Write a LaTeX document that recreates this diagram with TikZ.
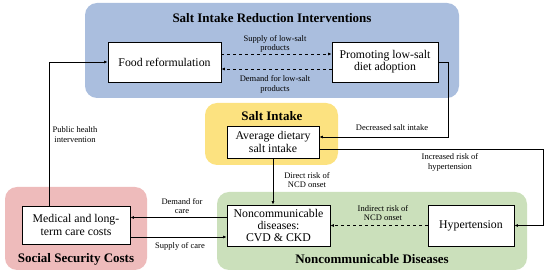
\documentclass[tikz,border=0pt]{standalone}
\usepackage{fontspec}
\setmainfont{Liberation Serif}
\usepackage{xcolor}
\usepackage{tikz}
\usetikzlibrary{arrows.meta, positioning}
\definecolor{interblue}{RGB}{170, 190, 222}
\definecolor{intakeyellow}{RGB}{252, 226, 128}
\definecolor{costred}{RGB}{238, 187, 187}
\definecolor{ncdgreen}{RGB}{203, 224, 187}

\begin{document}
\begin{tikzpicture}[x=1pt, y=-1pt, >={Latex[length=3.5pt,width=3pt]}]
    \tikzstyle{region} = [rectangle, rounded corners=12pt, inner sep=0pt]
    \tikzstyle{title} = [font=\fontsize{13}{15}\selectfont\bfseries]
    \tikzstyle{box} = [rectangle, draw=black, fill=white, line width=0.8pt, align=center, inner sep=1pt, font=\fontsize{11.8}{12.3}\selectfont]
    \tikzstyle{lbl} = [align=center, font=\fontsize{8.5}{9.5}\selectfont]
    \tikzstyle{link} = [line width=0.8pt, ->]

    \useasboundingbox (0,0) rectangle (550,280);

    % coloured groups
    \node (blue) [region, fill=interblue, minimum width=374pt, minimum height=95pt] at (272,50.5) {};
    \node (yellow) [region, fill=intakeyellow, minimum width=133pt, minimum height=62pt] at (271.5,134) {};
    \node (red) [region, fill=costred, minimum width=142pt, minimum height=83pt] at (76,228.5) {};
    \node (green) [region, fill=ncdgreen, minimum width=310pt, minimum height=78pt] at (372,231) {};

    \node (t-blue) [title] at (272,18) {Salt Intake Reduction Interventions};
    \node (t-yellow) [title] at (272,116) {Salt Intake};
    \node (t-red) [title] at (76,259) {Social Security Costs};
    \node (t-green) [title] at (372,259) {Noncommunicable Diseases};

    % boxes
    \node (food) [box, minimum width=113pt, minimum height=40pt] at (164.5,62) {Food reformulation};
    \node (promo) [box, minimum width=106pt, minimum height=40pt] at (385,62) {Promoting low-salt\\diet adoption};
    \node (avg) [box, minimum width=92pt, minimum height=32pt] at (273,142) {Average dietary\\salt intake};
    \node (ncd) [box, minimum width=103pt, minimum height=41pt] at (278.5,225.5) {Noncommunicable\\diseases:\\CVD \& CKD};
    \node (hyp) [box, minimum width=86pt, minimum height=41pt] at (471,225.5) {Hypertension};
    \node (med) [box, minimum width=108pt, minimum height=38pt] at (76,225) {Medical and long-\\term care costs};

    % connectors
    \draw [link, dashed] ([yshift=8pt]food.east) -- ([yshift=8pt]food.east -| promo.west);
    \draw [link, dashed] ([yshift=-7pt]promo.west) -- ([yshift=-7pt]promo.west -| food.east);
    \draw [link] (promo.east) -- ++(10,0) |- ([yshift=5pt]avg.east);
    \draw [link] ([yshift=-7pt]avg.east) -- ++(224,0) |- (hyp.east);
    \draw [link] (avg.south) -- (avg.south |- ncd.north);
    \draw [link, dashed] (hyp.west) -- (ncd.east);
    \draw [link] ([yshift=8pt]ncd.west) -- ([yshift=8pt]ncd.west -| med.east);
    \draw [link] ([yshift=-12pt]med.east) -- ([yshift=-12pt]med.east -| ncd.west);
    \draw [link] ([xshift=-27pt]med.north) |- (food.west);

    % labels
    \node (l-supply) [lbl] at (275,44) {Supply of low-salt\\products};
    \node (l-demand) [lbl] at (275,84.5) {Demand for low-salt\\products};
    \node (l-decr) [lbl] at (392,128) {Decreased salt intake};
    \node (l-incr) [lbl] at (450,162.5) {Increased risk of\\hypertension};
    \node (l-direct) [lbl] at (307,180) {Direct risk of\\NCD onset};
    \node (l-indirect) [lbl] at (383,213) {Indirect risk of\\NCD onset};
    \node (l-care) [lbl] at (182,206) {Demand for\\care};
    \node (l-supcare) [lbl] at (180,246) {Supply of care};
    \node (l-public) [lbl] at (75,134.5) {Public health\\intervention};
\end{tikzpicture}
\end{document}
